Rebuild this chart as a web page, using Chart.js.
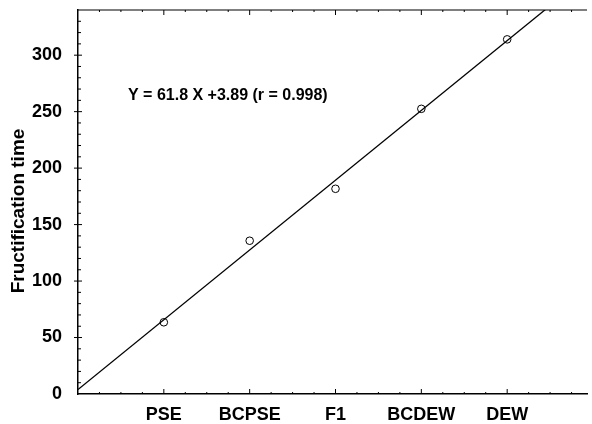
<!DOCTYPE html>
<html>
<head>
<meta charset="utf-8">
<script src="https://cdn.jsdelivr.net/npm/chart.js@4/dist/chart.umd.min.js"></script>
<style>
  html, body { margin: 0; padding: 0; background: #fff; }
  #wrap { width: 592px; height: 424px; }
</style>
</head>
<body>
<div id="wrap"><canvas id="c" width="592" height="424"></canvas></div>
<script>
// categories sit at x = 1..5
const categories = ['PSE', 'BCPSE', 'F1', 'BCDEW', 'DEW'];
const catX = [1, 2, 3, 4, 5];
const fructTime = [63.5, 135.7, 181.7, 252.5, 314];
const yTicks = [0, 50, 100, 150, 200, 250, 300];

// fitted line as printed on the figure
const slope = 61.8, intercept = 3.89;
const fitX = [0, 5.93];
const fitLabel = 'Y = 61.8 X +3.89 (r = 0.998)';

const FONT = '"Liberation Sans", Arial, sans-serif';

// minor/major tick marks on all drawn edges, plus y title and fit label
const decor = {
    id: 'decor',
    afterDraw(chart) {
        const ctx = chart.ctx, a = chart.chartArea;
        const xs = chart.scales.x, ys = chart.scales.y;
        ctx.save();
        ctx.strokeStyle = '#000';
        ctx.lineWidth = 1.2;
        ctx.beginPath();
        ctx.moveTo(a.left, a.top);
        ctx.lineTo(a.right, a.top);
        ctx.stroke();

        ctx.lineWidth = 1;
        ctx.beginPath();
        for (let v = 0.25; v < xs.max; v += 0.25) {
            const px = xs.getPixelForValue(v);
            const major = Math.abs(v - Math.round(v)) < 1e-6;
            const len = major ? 5 : 2;
            ctx.moveTo(px, a.bottom); ctx.lineTo(px, a.bottom - len);
            ctx.moveTo(px, a.top); ctx.lineTo(px, a.top + len);
        }
        for (let v = 10; v < ys.max; v += 10) {
            const py = ys.getPixelForValue(v);
            const major = v % 50 === 0;
            if (major) {
                ctx.moveTo(a.left - 4, py); ctx.lineTo(a.left + 4, py);
            } else {
                ctx.moveTo(a.left, py); ctx.lineTo(a.left + 3, py);
            }
        }
        ctx.stroke();

        ctx.fillStyle = '#000';
        ctx.font = 'bold 16px ' + FONT;
        ctx.textAlign = 'left';
        ctx.textBaseline = 'alphabetic';
        ctx.fillText(fitLabel, 128, 100);

        ctx.translate(24, 211);
        ctx.rotate(-Math.PI / 2);
        ctx.font = 'bold 19px ' + FONT;
        ctx.textAlign = 'center';
        ctx.fillText('Fructification time', 0, 0);
        ctx.restore();
    }
};

new Chart(document.getElementById('c'), {
    type: 'scatter',
    data: {
        datasets: [{
            type: 'line',
            data: fitX.map(x => ({ x, y: slope * x + intercept })),
            borderColor: '#000',
            borderWidth: 1.3,
            pointRadius: 0,
            fill: false
        }, {
            data: catX.map((x, i) => ({ x, y: fructTime[i] })),
            pointRadius: 3.8,
            pointBorderWidth: 1,
            pointBorderColor: '#000',
            pointBackgroundColor: '#fff'
        }]
    },
    options: {
        responsive: false,
        animation: false,
        layout: { padding: { top: 10, right: 0, left: 0, bottom: 0 } },
        plugins: { legend: { display: false }, tooltip: { enabled: false } },
        scales: {
            x: {
                type: 'linear',
                min: 0,
                max: fitX[1],
                afterBuildTicks(s) { s.ticks = catX.map(v => ({ value: v })); },
                afterFit(s) { s.height = 30; s.paddingLeft = 0; s.paddingRight = 0; },
                grid: { display: false },
                border: { display: true, color: '#000', width: 1.5 },
                ticks: {
                    color: '#000',
                    padding: 2,
                    maxRotation: 0,
                    autoSkip: false,
                    font: { family: FONT, size: 18, weight: 'bold' },
                    callback: v => categories[catX.indexOf(v)] || ''
                }
            },
            y: {
                min: 0,
                max: 340,
                afterBuildTicks(s) { s.ticks = yTicks.map(v => ({ value: v })); },
                afterFit(s) { s.width = 78; s.paddingTop = 0; s.paddingBottom = 0; },
                grid: { display: false },
                border: { display: true, color: '#000', width: 1.5 },
                ticks: {
                    color: '#000',
                    padding: 8,
                    font: { family: FONT, size: 18, weight: 'bold' }
                }
            }
        }
    },
    plugins: [decor]
});
</script>
</body>
</html>
